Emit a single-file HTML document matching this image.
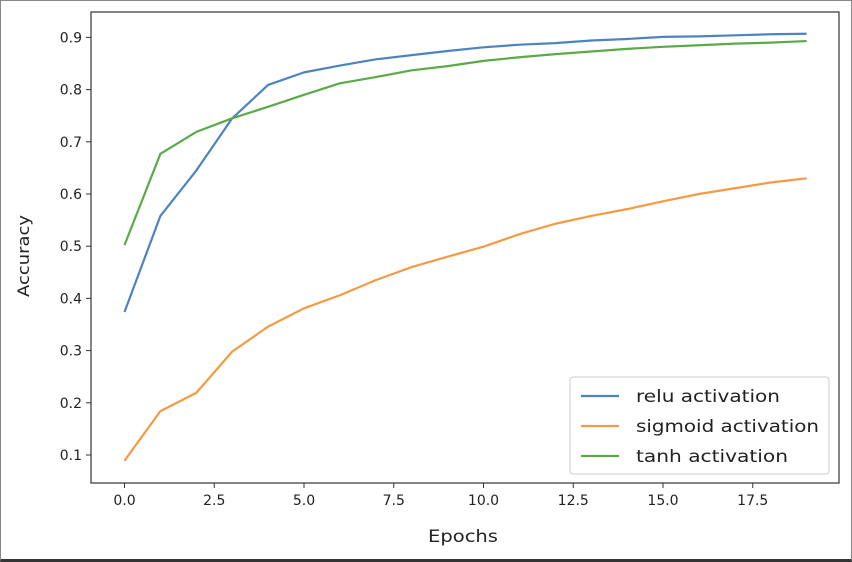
<!DOCTYPE html>
<html><head><meta charset="utf-8"><style>
body{margin:0;background:#fff;}
#wrap{width:852px;height:562px;position:relative;box-sizing:border-box;border:1px solid #888;border-bottom:3px solid #333;overflow:hidden;background:#fff}
svg text{font-family:"DejaVu Sans","Liberation Sans",sans-serif;fill:#222}
</style></head><body>
<div id="wrap">
<svg id="chart" width="852" height="562" style="position:absolute;left:-1px;top:-1px"></svg>
</div>
<script>
const epochs=[0,1,2,3,4,5,6,7,8,9,10,11,12,13,14,15,16,17,18,19];
const reluValues=[0.374,0.558,0.645,0.745,0.809,0.833,0.846,0.858,0.866,0.874,0.881,0.886,0.889,0.894,0.897,0.901,0.902,0.904,0.906,0.907];
const sigmoidValues=[0.089,0.184,0.219,0.298,0.346,0.381,0.406,0.435,0.460,0.480,0.499,0.523,0.543,0.558,0.571,0.586,0.600,0.611,0.622,0.630];
const tanhValues=[0.502,0.677,0.719,0.745,0.767,0.790,0.812,0.824,0.837,0.845,0.855,0.862,0.868,0.873,0.878,0.882,0.885,0.888,0.890,0.893];
const xTicks=[0,2.5,5,7.5,10,12.5,15,17.5];
const xTickLabels=["0.0","2.5","5.0","7.5","10.0","12.5","15.0","17.5"];
const yTicks=[0.1,0.2,0.3,0.4,0.5,0.6,0.7,0.8,0.9];
const yTickLabels=["0.1","0.2","0.3","0.4","0.5","0.6","0.7","0.8","0.9"];
const seriesNames=["relu activation","sigmoid activation","tanh activation"];
const seriesColors=["#4c84c0","#f59a44","#5aaa48"];
const legendWidths=[144,183,152];

const NS="http://www.w3.org/2000/svg";
const svg=document.getElementById('chart');
const L=91,R=839,T=12,B=483;
const xs=v=>124.5+v*35.9;
const ys=v=>455-(v-0.1)*522;
function mk(tag,attrs,parent){const e=document.createElementNS(NS,tag);for(const k in attrs)e.setAttribute(k,attrs[k]);(parent||svg).appendChild(e);return e;}

[reluValues,sigmoidValues,tanhValues].forEach((vals,i)=>{
  const d=vals.map((v,j)=>(j?'L':'M')+xs(epochs[j]).toFixed(2)+','+ys(v).toFixed(2)).join(' ');
  const p=mk('path',{d:d,fill:'none',stroke:seriesColors[i],'stroke-width':2.2,'stroke-linejoin':'round'});
  
  
});

const fr=mk('rect',{x:L,y:T,width:R-L,height:B-T,fill:'none',stroke:'#333','stroke-width':1.2});



xTicks.forEach((v,i)=>{
  const x=xs(v);
  const t=mk('line',{x1:x,x2:x,y1:B,y2:B+5,stroke:'#333','stroke-width':1});
  
  
  const tx=mk('text',{x:x,y:B+22,'text-anchor':'middle','font-size':14});
  tx.textContent=xTickLabels[i];
  
  
});
yTicks.forEach((v,i)=>{
  const y=ys(v);
  const t=mk('line',{x1:L-5,x2:L,y1:y,y2:y,stroke:'#333','stroke-width':1});
  
  
  const tx=mk('text',{x:L-9,y:y+5,'text-anchor':'end','font-size':14});
  tx.textContent=yTickLabels[i];
  
  
});
const xt=mk('text',{x:428,y:542,'font-size':17,textLength:70,lengthAdjust:'spacingAndGlyphs'});
xt.textContent='Epochs';


const yt=mk('text',{x:0,y:0,'font-size':16,textLength:82,lengthAdjust:'spacingAndGlyphs',transform:'translate(29,297) rotate(-90)'});
yt.textContent='Accuracy';



const lg=mk('g',{});


mk('rect',{x:570,y:377,width:259,height:97,rx:3,fill:'#fff',stroke:'#ccc','stroke-width':1},lg);
seriesNames.forEach((n,i)=>{
  const y=396+i*30;
  const g=mk('g',{},lg);
  
  
  mk('line',{x1:581,x2:619,y1:y,y2:y,stroke:seriesColors[i],'stroke-width':2.2},g);
  const t=mk('text',{x:636,y:y+6,'font-size':17,textLength:legendWidths[i],lengthAdjust:'spacingAndGlyphs'},g);
  t.textContent=n;
});
</script>
</body></html>
